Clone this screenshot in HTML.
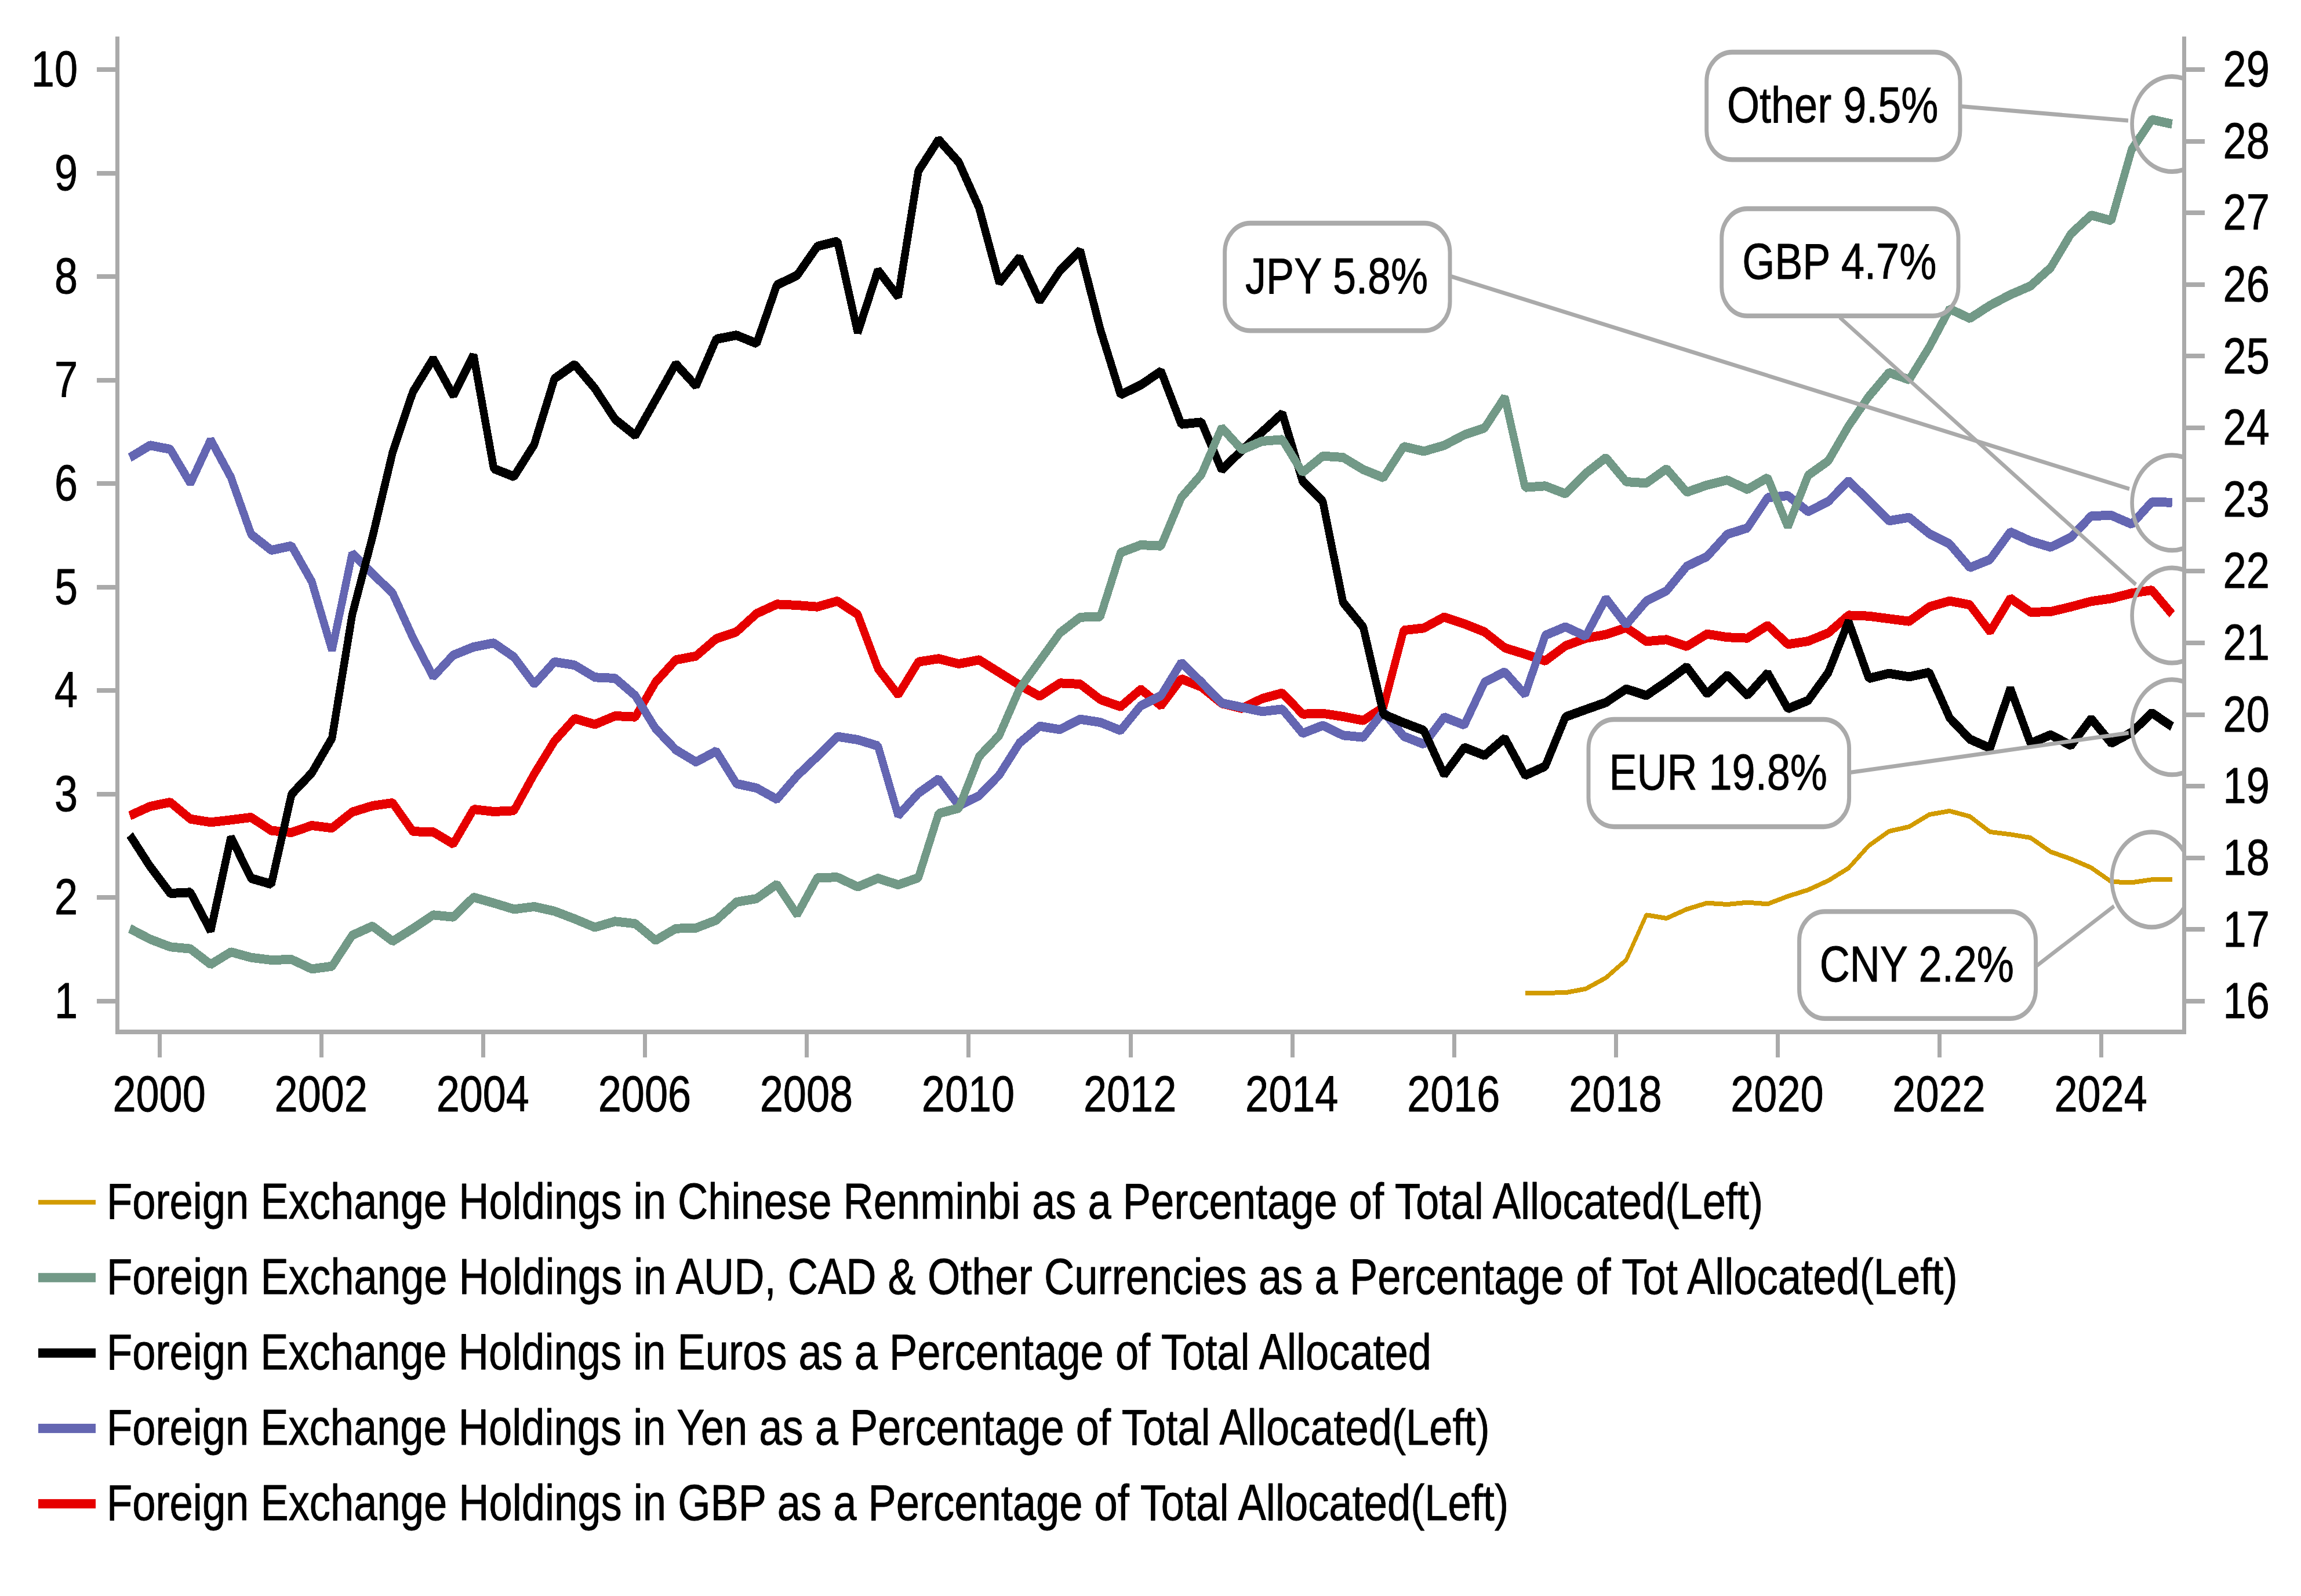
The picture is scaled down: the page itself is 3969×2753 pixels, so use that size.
<!DOCTYPE html>
<html lang="en"><head><meta charset="utf-8"><title>Currency composition of foreign exchange reserves</title>
<style>html,body{margin:0;padding:0;background:#fff}body{width:3969px;height:2753px;overflow:hidden}svg{display:block}text{font-family:"Liberation Sans",sans-serif;font-size:87.5px;fill:#000;stroke:#000;stroke-width:0.9px;stroke-linejoin:round}.s{fill:none;stroke-linejoin:bevel;stroke-linecap:butt;shape-rendering:crispEdges}.g{stroke:#aaaaaa;fill:none;stroke-width:6.6}.c{stroke:#aaaaaa;fill:none;stroke-width:5.9}.b{stroke:#aaaaaa;fill:none;stroke-width:6.9}</style></head><body>
<svg width="3969" height="2753" viewBox="0 0 3969 2753">
<rect width="3969" height="2753" fill="#fff"/>
<defs><clipPath id="plot"><rect x="206" y="41.67" width="3558" height="1438.33"/></clipPath></defs>
<g transform="scale(1 1.2)">
<g clip-path="url(#plot)">
<polyline class="s" stroke="#e60000" stroke-width="13.33" points="223.9,1172.50 258.8,1159.17 293.7,1153.24 328.5,1177.25 363.4,1181.95 398.3,1178.58 433.2,1174.96 468.0,1193.92 502.9,1196.69 537.8,1186.63 572.7,1190.29 607.6,1167.25 642.4,1158.33 677.3,1154.12 712.2,1195.25 747.1,1195.83 781.9,1213.20 816.8,1163.30 851.7,1166.67 886.6,1165.25 921.5,1112.50 956.3,1065.25 991.2,1032.87 1026.1,1041.30 1061.0,1029.16 1095.9,1030.59 1130.7,980.58 1165.6,948.58 1200.5,943.08 1235.4,918.08 1270.2,908.33 1305.1,881.92 1340.0,868.58 1374.9,870.00 1409.8,872.26 1444.6,863.99 1479.5,883.33 1514.4,961.08 1549.3,998.81 1584.1,951.42 1619.0,946.86 1653.9,954.26 1688.8,948.49 1723.7,966.67 1758.5,984.75 1793.4,1000.89 1828.3,981.91 1863.2,983.33 1898.0,1005.58 1932.9,1015.83 1967.8,990.79 2002.7,1014.49 2037.6,975.76 2072.4,987.50 2107.3,1011.08 2142.2,1018.22 2177.1,1004.17 2211.9,996.22 2246.8,1026.42 2281.7,1025.58 2316.6,1030.00 2351.5,1035.64 2386.3,1016.67 2421.2,906.08 2456.1,902.75 2491.0,886.98 2525.8,896.67 2560.7,908.33 2595.6,931.25 2630.5,940.25 2665.4,949.97 2700.2,928.33 2735.1,917.50 2770.0,912.08 2804.9,902.25 2839.8,921.93 2874.6,919.40 2909.5,929.13 2944.4,911.36 2979.3,916.00 3014.1,917.25 3049.0,898.96 3083.9,926.14 3118.8,921.67 3153.7,909.75 3188.5,884.50 3223.4,885.58 3258.3,889.42 3293.2,893.12 3328.0,872.25 3362.9,863.83 3397.8,869.42 3432.7,908.03 3467.6,859.95 3502.4,880.00 3537.3,879.17 3572.2,872.25 3607.1,864.42 3641.9,860.25 3676.8,852.75 3711.7,848.28 3746.6,882.75"/>
<polyline class="s" stroke="#6466b2" stroke-width="13.33" points="223.9,657.75 258.8,640.16 293.7,645.83 328.5,694.74 363.4,632.24 398.3,686.08 433.2,768.08 468.0,790.94 502.9,784.64 537.8,836.08 572.7,934.72 607.6,795.40 642.4,824.42 677.3,852.75 712.2,916.67 747.1,972.80 781.9,941.67 816.8,930.00 851.7,924.33 886.6,944.42 921.5,983.43 956.3,951.36 991.2,956.08 1026.1,973.58 1061.0,975.00 1095.9,1000.00 1130.7,1047.25 1165.6,1077.75 1200.5,1095.30 1235.4,1079.70 1270.2,1126.42 1305.1,1132.75 1340.0,1148.95 1374.9,1115.25 1409.8,1087.50 1444.6,1058.83 1479.5,1063.33 1514.4,1072.25 1549.3,1172.31 1584.1,1140.25 1619.0,1119.63 1653.9,1157.98 1688.8,1143.92 1723.7,1113.92 1758.5,1068.08 1793.4,1043.85 1828.3,1048.65 1863.2,1033.86 1898.0,1038.33 1932.9,1050.07 1967.8,1014.42 2002.7,1000.00 2037.6,952.41 2072.4,980.58 2107.3,1010.58 2142.2,1016.67 2177.1,1022.78 2211.9,1019.39 2246.8,1054.22 2281.7,1042.75 2316.6,1056.92 2351.5,1059.77 2386.3,1023.02 2421.2,1058.33 2456.1,1069.75 2491.0,1030.78 2525.8,1042.28 2560.7,980.58 2595.6,965.86 2630.5,998.46 2665.4,913.33 2700.2,901.04 2735.1,914.62 2770.0,860.07 2804.9,898.01 2839.8,863.92 2874.6,849.33 2909.5,813.92 2944.4,800.00 2979.3,768.08 3014.1,758.92 3049.0,715.25 3083.9,712.48 3118.8,735.52 3153.7,720.83 3188.5,691.30 3223.4,719.42 3258.3,748.65 3293.2,743.85 3328.0,767.25 3362.9,781.92 3397.8,815.90 3432.7,804.17 3467.6,764.57 3502.4,777.75 3537.3,786.59 3572.2,772.25 3607.1,741.67 3641.9,740.83 3676.8,753.45 3711.7,721.67 3746.6,722.25"/>
<polyline class="s" stroke="#000000" stroke-width="13.33" points="223.9,1200.25 258.8,1245.42 293.7,1284.17 328.5,1282.74 363.4,1338.11 398.3,1203.39 433.2,1262.50 468.0,1271.02 502.9,1141.67 537.8,1111.08 572.7,1061.08 607.6,883.33 642.4,772.25 677.3,650.00 712.2,563.33 747.1,515.60 781.9,568.56 816.8,510.37 851.7,673.58 886.6,685.09 921.5,638.92 956.3,544.42 991.2,523.79 1026.1,558.33 1061.0,602.75 1095.9,626.13 1130.7,575.00 1165.6,522.98 1200.5,554.80 1235.4,487.50 1270.2,481.83 1305.1,493.69 1340.0,409.75 1374.9,395.83 1409.8,354.17 1444.6,346.80 1479.5,478.14 1514.4,388.38 1549.3,426.62 1584.1,245.83 1619.0,200.70 1653.9,233.33 1688.8,298.58 1723.7,406.51 1758.5,369.87 1793.4,432.80 1828.3,388.92 1863.2,360.14 1898.0,473.58 1932.9,567.43 1967.8,553.33 2002.7,533.58 2037.6,609.77 2072.4,606.89 2107.3,675.37 2142.2,647.25 2177.1,620.83 2211.9,594.19 2246.8,691.67 2281.7,720.83 2316.6,865.83 2351.5,901.42 2386.3,1026.67 2421.2,1038.92 2456.1,1050.00 2491.0,1113.63 2525.8,1074.39 2560.7,1085.89 2595.6,1060.98 2630.5,1114.60 2665.4,1101.42 2700.2,1030.58 2735.1,1020.00 2770.0,1009.75 2804.9,990.33 2839.8,999.67 2874.6,980.00 2909.5,958.45 2944.4,997.50 2979.3,970.55 3014.1,999.60 3049.0,967.40 3083.9,1018.68 3118.8,1006.92 3153.7,966.67 3188.5,893.13 3223.4,975.13 3258.3,968.02 3293.2,972.81 3328.0,966.56 3362.9,1031.92 3397.8,1062.50 3432.7,1075.41 3467.6,989.36 3502.4,1068.45 3537.3,1056.30 3572.2,1071.68 3607.1,1033.02 3641.9,1068.36 3676.8,1052.75 3711.7,1024.69 3746.6,1044.42"/>
<polyline class="s" stroke="#729987" stroke-width="13.33" points="223.9,1334.75 258.8,1350.00 293.7,1361.08 328.5,1363.92 363.4,1386.29 398.3,1368.44 433.2,1376.42 468.0,1380.00 502.9,1379.16 537.8,1392.82 572.7,1388.92 607.6,1344.42 642.4,1331.24 677.3,1352.98 712.2,1334.75 747.1,1315.23 781.9,1318.11 816.8,1289.82 851.7,1298.08 886.6,1306.95 921.5,1303.30 956.3,1309.75 991.2,1320.83 1026.1,1332.97 1061.0,1324.39 1095.9,1327.75 1130.7,1351.79 1165.6,1334.75 1200.5,1333.92 1235.4,1322.75 1270.2,1296.67 1305.1,1291.67 1340.0,1271.01 1374.9,1314.73 1409.8,1261.67 1444.6,1261.08 1479.5,1274.82 1514.4,1262.55 1549.3,1271.89 1584.1,1261.67 1619.0,1169.42 1653.9,1161.67 1688.8,1087.50 1723.7,1056.92 1758.5,990.25 1793.4,950.00 1828.3,909.75 1863.2,887.25 1898.0,886.42 1932.9,794.42 1967.8,783.33 2002.7,784.76 2037.6,715.25 2072.4,681.92 2107.3,614.65 2142.2,646.49 2177.1,634.17 2211.9,631.90 2246.8,679.20 2281.7,655.57 2316.6,657.50 2351.5,675.00 2386.3,686.74 2421.2,641.82 2456.1,648.71 2491.0,640.25 2525.8,625.00 2560.7,615.25 2595.6,570.78 2630.5,700.59 2665.4,698.57 2700.2,709.76 2735.1,680.58 2770.0,657.80 2804.9,692.50 2839.8,694.43 2874.6,673.79 2909.5,707.49 2944.4,697.25 2979.3,690.11 3014.1,703.50 3049.0,686.55 3083.9,757.33 3118.8,683.33 3153.7,662.50 3188.5,612.50 3223.4,570.00 3258.3,535.56 3293.2,545.83 3328.0,498.58 3362.9,443.95 3397.8,457.69 3432.7,438.92 3467.6,423.58 3502.4,411.08 3537.3,384.75 3572.2,336.08 3607.1,309.28 3641.9,317.11 3676.8,215.25 3711.7,171.83 3746.6,178.33"/>
<polyline class="s" stroke="#d29b00" stroke-width="6.67" points="2630.5,1427.25 2665.4,1427.25 2700.2,1426.92 2735.1,1421.42 2770.0,1405.58 2804.9,1380.00 2839.8,1315.22 2874.6,1320.03 2909.5,1306.92 2944.4,1298.08 2979.3,1300.01 3014.1,1297.24 3049.0,1299.42 3083.9,1288.33 3118.8,1279.17 3153.7,1265.83 3188.5,1247.92 3223.4,1215.67 3258.3,1195.00 3293.2,1188.33 3328.0,1170.83 3362.9,1165.80 3397.8,1173.58 3432.7,1195.83 3467.6,1199.42 3502.4,1204.17 3537.3,1224.42 3572.2,1234.75 3607.1,1247.25 3641.9,1267.50 3676.8,1268.58 3711.7,1264.42 3746.6,1264.42"/>
</g>
<g clip-path="url(#plot)">
<line class="c" x1="3383.0" y1="152.92" x2="3671.0" y2="173.33"/>
<ellipse class="g" cx="3746.6" cy="178.33" rx="69" ry="68.33"/>
<line class="c" x1="3173.3" y1="456.25" x2="3684.2" y2="840.25"/>
<ellipse class="g" cx="3746.6" cy="884.58" rx="69" ry="68.33"/>
<line class="c" x1="2503.0" y1="397.33" x2="3673.0" y2="702.83"/>
<ellipse class="g" cx="3746.6" cy="722.75" rx="69" ry="68.33"/>
<line class="c" x1="3191.0" y1="1110.50" x2="3671.7" y2="1053.58"/>
<ellipse class="g" cx="3746.6" cy="1045.17" rx="69" ry="68.33"/>
<line class="c" x1="3513.0" y1="1388.33" x2="3646.6" y2="1302.50"/>
<ellipse class="g" cx="3711.7" cy="1264.42" rx="69" ry="68.33"/>
</g>
<rect class="b" x="2943.7" y="75.00" width="437.3" height="154.42" rx="44" ry="41.67"/>
<rect class="b" x="2969.7" y="300.00" width="408.3" height="154.00" rx="44" ry="41.67"/>
<rect class="b" x="2112.6" y="320.83" width="388.4" height="154.50" rx="44" ry="41.67"/>
<rect class="b" x="2740.0" y="1034.17" width="449.6" height="154.17" rx="44" ry="41.67"/>
<rect class="b" x="3103.5" y="1310.33" width="408.0" height="153.67" rx="44" ry="41.67"/>
</g>
<text transform="translate(3161.2 211.0) scale(0.8235 1)" text-anchor="middle">Other 9.5%</text>
<text transform="translate(3172.7 480.7) scale(0.8235 1)" text-anchor="middle">GBP 4.7%</text>
<text transform="translate(2305.6 506.0) scale(0.8235 1)" text-anchor="middle">JPY 5.8%</text>
<text transform="translate(2963.6 1361.8) scale(0.8235 1)" text-anchor="middle">EUR 19.8%</text>
<text transform="translate(3306.3 1692.9) scale(0.8235 1)" text-anchor="middle">CNY 2.2%</text>
<g fill="#aaaaaa" shape-rendering="crispEdges">
<rect x="199" y="63" width="7" height="1721"/>
<rect x="3764" y="63" width="7" height="1721"/>
<rect x="199" y="1776" width="3572" height="8"/>
<rect x="167" y="1723" width="32" height="8"/>
<rect x="167" y="1544" width="32" height="8"/>
<rect x="167" y="1366" width="32" height="8"/>
<rect x="167" y="1187" width="32" height="8"/>
<rect x="167" y="1009" width="32" height="8"/>
<rect x="167" y="830" width="32" height="8"/>
<rect x="167" y="652" width="32" height="8"/>
<rect x="167" y="473" width="32" height="8"/>
<rect x="167" y="295" width="32" height="8"/>
<rect x="167" y="116" width="32" height="8"/>
<rect x="3771" y="1723" width="32" height="8"/>
<rect x="3771" y="1599" width="32" height="8"/>
<rect x="3771" y="1476" width="32" height="8"/>
<rect x="3771" y="1352" width="32" height="8"/>
<rect x="3771" y="1229" width="32" height="8"/>
<rect x="3771" y="1105" width="32" height="8"/>
<rect x="3771" y="981" width="32" height="8"/>
<rect x="3771" y="858" width="32" height="8"/>
<rect x="3771" y="734" width="32" height="8"/>
<rect x="3771" y="610" width="32" height="8"/>
<rect x="3771" y="487" width="32" height="8"/>
<rect x="3771" y="363" width="32" height="8"/>
<rect x="3771" y="240" width="32" height="8"/>
<rect x="3771" y="116" width="32" height="8"/>
<rect x="272" y="1784" width="7" height="40"/>
<rect x="551" y="1784" width="7" height="40"/>
<rect x="830" y="1784" width="7" height="40"/>
<rect x="1109" y="1784" width="7" height="40"/>
<rect x="1388" y="1784" width="7" height="40"/>
<rect x="1667" y="1784" width="7" height="40"/>
<rect x="1947" y="1784" width="7" height="40"/>
<rect x="2226" y="1784" width="7" height="40"/>
<rect x="2505" y="1784" width="7" height="40"/>
<rect x="2784" y="1784" width="7" height="40"/>
<rect x="3063" y="1784" width="7" height="40"/>
<rect x="3342" y="1784" width="7" height="40"/>
<rect x="3621" y="1784" width="7" height="40"/>
</g>
<text transform="translate(134.0 1755.9) scale(0.8235 1)" text-anchor="end">1</text>
<text transform="translate(134.0 1577.3) scale(0.8235 1)" text-anchor="end">2</text>
<text transform="translate(134.0 1398.8) scale(0.8235 1)" text-anchor="end">3</text>
<text transform="translate(134.0 1220.2) scale(0.8235 1)" text-anchor="end">4</text>
<text transform="translate(134.0 1041.7) scale(0.8235 1)" text-anchor="end">5</text>
<text transform="translate(134.0 863.1) scale(0.8235 1)" text-anchor="end">6</text>
<text transform="translate(134.0 684.6) scale(0.8235 1)" text-anchor="end">7</text>
<text transform="translate(134.0 506.0) scale(0.8235 1)" text-anchor="end">8</text>
<text transform="translate(134.0 327.5) scale(0.8235 1)" text-anchor="end">9</text>
<text transform="translate(134.0 148.9) scale(0.8235 1)" text-anchor="end">10</text>
<text transform="translate(3834.6 1756.1) scale(0.8235 1)" text-anchor="start">16</text>
<text transform="translate(3834.6 1632.5) scale(0.8235 1)" text-anchor="start">17</text>
<text transform="translate(3834.6 1508.9) scale(0.8235 1)" text-anchor="start">18</text>
<text transform="translate(3834.6 1385.3) scale(0.8235 1)" text-anchor="start">19</text>
<text transform="translate(3834.6 1261.6) scale(0.8235 1)" text-anchor="start">20</text>
<text transform="translate(3834.6 1138.0) scale(0.8235 1)" text-anchor="start">21</text>
<text transform="translate(3834.6 1014.4) scale(0.8235 1)" text-anchor="start">22</text>
<text transform="translate(3834.6 890.8) scale(0.8235 1)" text-anchor="start">23</text>
<text transform="translate(3834.6 767.2) scale(0.8235 1)" text-anchor="start">24</text>
<text transform="translate(3834.6 643.6) scale(0.8235 1)" text-anchor="start">25</text>
<text transform="translate(3834.6 520.0) scale(0.8235 1)" text-anchor="start">26</text>
<text transform="translate(3834.6 396.3) scale(0.8235 1)" text-anchor="start">27</text>
<text transform="translate(3834.6 272.7) scale(0.8235 1)" text-anchor="start">28</text>
<text transform="translate(3834.6 149.1) scale(0.8235 1)" text-anchor="start">29</text>
<text transform="translate(274.6 1917.0) scale(0.8235 1)" text-anchor="middle">2000</text>
<text transform="translate(553.7 1917.0) scale(0.8235 1)" text-anchor="middle">2002</text>
<text transform="translate(832.8 1917.0) scale(0.8235 1)" text-anchor="middle">2004</text>
<text transform="translate(1111.9 1917.0) scale(0.8235 1)" text-anchor="middle">2006</text>
<text transform="translate(1390.9 1917.0) scale(0.8235 1)" text-anchor="middle">2008</text>
<text transform="translate(1670.0 1917.0) scale(0.8235 1)" text-anchor="middle">2010</text>
<text transform="translate(1949.1 1917.0) scale(0.8235 1)" text-anchor="middle">2012</text>
<text transform="translate(2228.2 1917.0) scale(0.8235 1)" text-anchor="middle">2014</text>
<text transform="translate(2507.3 1917.0) scale(0.8235 1)" text-anchor="middle">2016</text>
<text transform="translate(2786.4 1917.0) scale(0.8235 1)" text-anchor="middle">2018</text>
<text transform="translate(3065.4 1917.0) scale(0.8235 1)" text-anchor="middle">2020</text>
<text transform="translate(3344.5 1917.0) scale(0.8235 1)" text-anchor="middle">2022</text>
<text transform="translate(3623.6 1917.0) scale(0.8235 1)" text-anchor="middle">2024</text>
<rect x="66" y="2069.8" width="99" height="8" fill="#d29b00"/>
<text transform="translate(184.1 2102.2) scale(0.8266 1)" text-anchor="start">Foreign Exchange Holdings in Chinese Renminbi as a Percentage of Total Allocated(Left)</text>
<rect x="66" y="2195.8" width="99" height="16" fill="#729987"/>
<text transform="translate(184.1 2232.2) scale(0.8272 1)" text-anchor="start">Foreign Exchange Holdings in AUD, CAD &amp; Other Currencies as a Percentage of Tot Allocated(Left)</text>
<rect x="66" y="2325.9" width="99" height="16" fill="#000000"/>
<text transform="translate(184.1 2362.3) scale(0.8261 1)" text-anchor="start">Foreign Exchange Holdings in Euros as a Percentage of Total Allocated</text>
<rect x="66" y="2455.9" width="99" height="16" fill="#6466b2"/>
<text transform="translate(184.1 2492.3) scale(0.8261 1)" text-anchor="start">Foreign Exchange Holdings in Yen as a Percentage of Total Allocated(Left)</text>
<rect x="66" y="2585.9" width="99" height="16" fill="#e60000"/>
<text transform="translate(184.1 2622.3) scale(0.8268 1)" text-anchor="start">Foreign Exchange Holdings in GBP as a Percentage of Total Allocated(Left)</text>
</svg></body></html>
